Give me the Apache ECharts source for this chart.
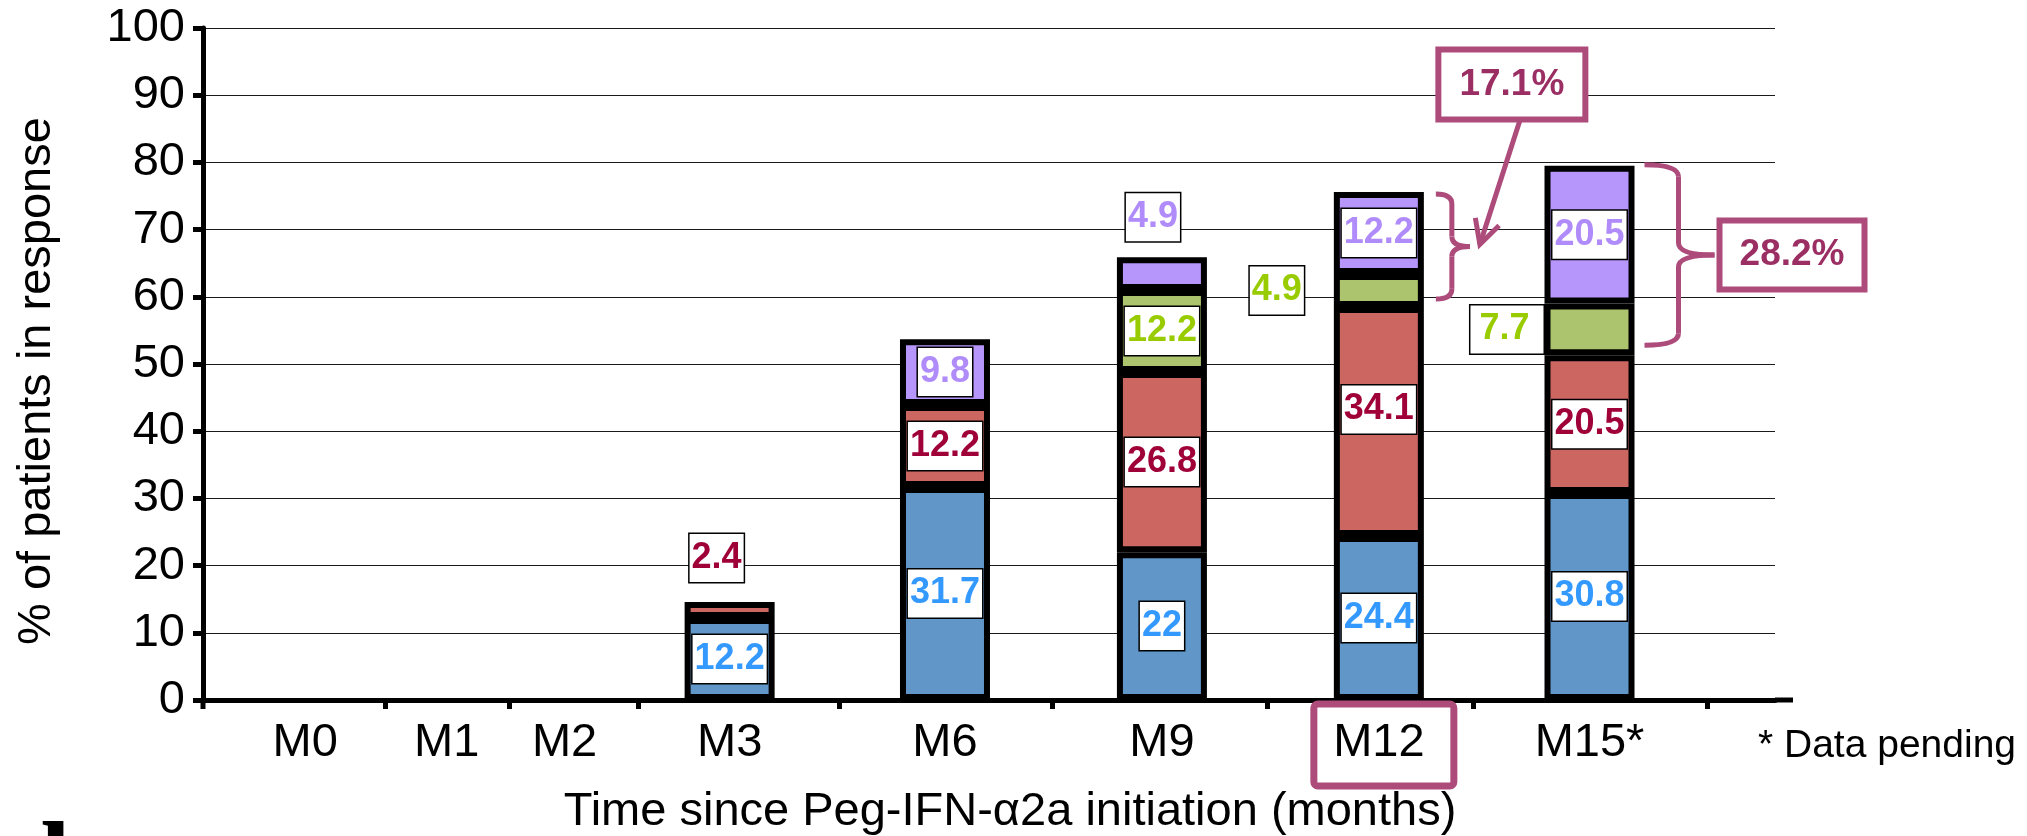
<!DOCTYPE html>
<html>
<head>
<meta charset="utf-8">
<script src="https://cdn.jsdelivr.net/npm/echarts@6/dist/echarts.min.js"></script>
<style>
  html, body { margin: 0; padding: 0; background: #fff; }
  #chart { width: 2027px; height: 836px; }
</style>
</head>
<body>
<div id="chart"></div>
<script>
// Time points since Peg-IFN-α2a initiation
const categories = ['M0', 'M1', 'M2', 'M3', 'M6', 'M9', 'M12', 'M15*'];

// Stacked response percentages, bottom segment first
const blueSeg   = [null, null, null, 12.2, 31.7, 22,   24.4, 30.8];
const redSeg    = [null, null, null, 2.4,  12.2, 26.8, 34.1, 20.5];
const greenSeg  = [null, null, null, null, null, 12.2, 4.9,  7.7];
const purpleSeg = [null, null, null, null, 9.8,  4.9,  12.2, 20.5];

// Y axis tick values
const yTicks = [0, 10, 20, 30, 40, 50, 60, 70, 80, 90, 100];

// Where each time point sits along the 0–100 time track, and the separator ticks between them
const slotPos = [6.5, 15.5, 23, 33.5, 47.2, 61, 74.8, 88.2];
const tickPos = [11.6, 19.5, 27.7, 40.5, 54, 67.7, 80.8, 95.7];

const FONT = 'Liberation Sans, Arial, Helvetica, sans-serif';
const MAGENTA = '#AD4B7B';
const MAGENTA_TEXT = '#9B2F64';
const BAR_W = 90;      // outer width; ECharts keeps the border inside the bar
const BAR_BORDER = 6;

const segments = [
  { name: 'blue',   vals: blueSeg,   fill: '#6196C9', text: '#3399FF' },
  { name: 'red',    vals: redSeg,    fill: '#CC6660', text: '#A00038' },
  { name: 'green',  vals: greenSeg,  fill: '#ACC46D', text: '#99CC00' },
  { name: 'purple', vals: purpleSeg, fill: '#B696FB', text: '#B08CFA' }
];

// Value boxes that sit outside or off-centre of their segment
const labelTweaks = {
  red:    { 3: { position: 'top', distance: 20, offset: [-13, 0] }, 6: { offset: [0, -12] } },
  green:  { 6: { position: 'left', distance: 30 },
            7: { position: 'left', distance: 1, padding: [6, 14, 6, 9] } },
  purple: { 5: { position: 'top', distance: 16, offset: [-9, 0] } }
};

function makeSeries(seg) {
  const tweaks = labelTweaks[seg.name] || {};
  return {
    name: seg.name,
    type: 'bar',
    stack: 'response',
    barWidth: BAR_W,
    encode: { x: 1, y: 0 },
    itemStyle: { color: seg.fill, borderColor: '#000', borderWidth: BAR_BORDER },
    label: {
      show: true,
      position: 'inside',
      formatter: p => String(seg.vals[p.dataIndex]),
      color: seg.text,
      fontFamily: FONT,
      fontWeight: 'bold',
      fontSize: 36,
      lineHeight: 36,
      backgroundColor: '#fff',
      borderColor: '#000',
      borderWidth: 1.5,
      padding: [6, 2]
    },
    emphasis: { disabled: true },
    data: seg.vals.map((v, i) => {
      const item = { value: [v == null ? '-' : v, slotPos[i]] };
      if (tweaks[i]) item.label = tweaks[i];
      return item;
    })
  };
}

const chart = echarts.init(document.getElementById('chart'));

chart.setOption({
  animation: false,
  backgroundColor: '#fff',
  textStyle: { fontFamily: FONT },
  grid: { left: 203, right: 252, top: 28, bottom: 136, containLabel: false },
  xAxis: {
    type: 'value',
    min: 0,
    max: 100,
    axisLine: { show: true, onZero: false, lineStyle: { color: '#000', width: 5 } },
    axisTick: { show: true, customValues: tickPos, length: 9, lineStyle: { color: '#000', width: 5 } },
    axisLabel: {
      customValues: slotPos,
      formatter: v => {
        const i = slotPos.findIndex(s => Math.abs(s - v) < 1e-6);
        return i >= 0 ? categories[i] : '';
      },
      fontSize: 47,
      color: '#000',
      margin: 20,
      fontFamily: FONT
    },
    splitLine: { show: false }
  },
  yAxis: {
    type: 'value',
    min: yTicks[0],
    max: yTicks[yTicks.length - 1],
    interval: yTicks[1] - yTicks[0],
    axisLine: { show: true, lineStyle: { color: '#000', width: 5 } },
    axisTick: { show: true, length: 10, lineStyle: { color: '#000', width: 5 } },
    axisLabel: { fontSize: 47, color: '#000', margin: 18, fontFamily: FONT },
    splitLine: { show: true, lineStyle: { color: '#1a1a1a', width: 1 } }
  },
  series: segments.map(makeSeries)
});

// ---- annotations placed from the chart's own scales ----
const px = (x, y) => chart.convertToPixel({ gridIndex: 0 }, [x, y]);
const stackTop = i => segments.reduce((s, seg) => s + (seg.vals[i] || 0), 0);
const baseOf = (i, k) => segments.slice(0, k).reduce((s, seg) => s + (seg.vals[i] || 0), 0);
const halfOuter = BAR_W / 2;

const lineStyle = { stroke: MAGENTA, lineWidth: 5, fill: 'none' };

function brace(x0, xs, xt, yTop, yBot, r) {
  const ym = (yTop + yBot) / 2;
  const parts = [
    { type: 'bezierCurve', shape: { x1: x0, y1: yTop, cpx1: xs, cpy1: yTop, x2: xs, y2: yTop + r } },
    { type: 'line', shape: { x1: xs, y1: yTop + r, x2: xs, y2: ym - r } },
    { type: 'bezierCurve', shape: { x1: xs, y1: ym - r, cpx1: xs, cpy1: ym, x2: xt, y2: ym } },
    { type: 'bezierCurve', shape: { x1: xt, y1: ym, cpx1: xs, cpy1: ym, x2: xs, y2: ym + r } },
    { type: 'line', shape: { x1: xs, y1: ym + r, x2: xs, y2: yBot - r } },
    { type: 'bezierCurve', shape: { x1: xs, y1: yBot - r, cpx1: xs, cpy1: yBot, x2: x0, y2: yBot } }
  ];
  parts.forEach(p => { p.style = lineStyle; p.z = 100; });
  return { parts, tip: [xt, ym] };
}

function callout(cx, cy, w, h, text) {
  return [
    { type: 'rect', z: 100, shape: { x: cx - w / 2, y: cy - h / 2, width: w, height: h },
      style: { fill: '#fff', stroke: MAGENTA, lineWidth: 6 } },
    { type: 'text', z: 101, x: cx, y: cy,
      style: { text, fill: MAGENTA_TEXT, fontFamily: FONT, fontWeight: 'bold', fontSize: 37,
               align: 'center', verticalAlign: 'middle', textAlign: 'center', textVerticalAlign: 'middle' } }
  ];
}

const g = [];

// M12: brace over the green + purple share, arrow from the total box
const i12 = categories.indexOf('M12');
const x12 = px(slotPos[i12], 0)[0];
const r12 = x12 + halfOuter;
const b12 = brace(r12 + 12, r12 + 28, r12 + 46,
                  px(0, stackTop(i12))[1] + 2, px(0, baseOf(i12, 2))[1] - 8, 10);
g.push(...b12.parts);
const share12 = (greenSeg[i12] + purpleSeg[i12]).toFixed(1) + '%';
const box12 = { cx: b12.tip[0] + 42, cy: b12.tip[1] - 162, w: 147, h: 70 };
g.push(...callout(box12.cx, box12.cy, box12.w, box12.h, share12));
const tail = [box12.cx + 8, box12.cy + box12.h / 2 + 1];
const tip = [b12.tip[0] + 10, b12.tip[1] - 2];
const ang = Math.atan2(tip[1] - tail[1], tip[0] - tail[0]);
const L = 27, spread = 0.48;
g.push({ type: 'line', z: 100, shape: { x1: tail[0], y1: tail[1], x2: tip[0], y2: tip[1] }, style: lineStyle });
g.push({ type: 'polyline', z: 100, shape: { points: [
  [tip[0] - L * Math.cos(ang - spread), tip[1] - L * Math.sin(ang - spread)],
  tip,
  [tip[0] - L * Math.cos(ang + spread), tip[1] - L * Math.sin(ang + spread)]
] }, style: lineStyle });

// M15: brace over the green + purple share with its total box
const i15 = categories.indexOf('M15*');
const x15 = px(slotPos[i15], 0)[0];
const r15 = x15 + halfOuter;
const b15 = brace(r15 + 10, r15 + 44, r15 + 80,
                  px(0, stackTop(i15))[1] - 1, px(0, baseOf(i15, 2))[1] - 10, 12);
g.push(...b15.parts);
const share15 = (greenSeg[i15] + purpleSeg[i15]).toFixed(1) + '%';
g.push(...callout(b15.tip[0] + 5 + 72.5, b15.tip[1], 145, 69, share15));

// Highlight frame around the M12 tick label
g.push({ type: 'rect', z: 100, shape: { x: x12 + 5 - 70, y: 704, width: 140, height: 82, r: 4 },
         style: { fill: 'none', stroke: MAGENTA, lineWidth: 7 } });

// Axis line stubs past the plot corner
const x0px = px(0, 0), xEnd = px(100, 0);
g.push({ type: 'line', z: 50, shape: { x1: xEnd[0], y1: xEnd[1], x2: xEnd[0] + 18, y2: xEnd[1] },
         style: { stroke: '#000', lineWidth: 5 } });
g.push({ type: 'line', z: 50, shape: { x1: x0px[0], y1: x0px[1], x2: x0px[0], y2: x0px[1] + 9 },
         style: { stroke: '#000', lineWidth: 5 } });

// Axis titles and footnote
g.push({ type: 'text', z: 100, x: 1010, y: 812,
         style: { text: 'Time since Peg-IFN-α2a initiation (months)', fill: '#000', fontFamily: FONT, fontSize: 47,
                  align: 'center', verticalAlign: 'middle', textAlign: 'center', textVerticalAlign: 'middle' } });
g.push({ type: 'text', z: 100, x: 37, y: 381, rotation: Math.PI / 2,
         style: { text: '% of patients in response', fill: '#000', fontFamily: FONT, fontSize: 47,
                  align: 'center', verticalAlign: 'middle', textAlign: 'center', textVerticalAlign: 'middle' } });
g.push({ type: 'text', z: 100, x: 1758, y: 746,
         style: { text: '* Data pending', fill: '#000', fontFamily: FONT, fontSize: 39,
                  align: 'left', verticalAlign: 'middle', textAlign: 'left', textVerticalAlign: 'middle' } });
// Panel letter, cut off by the bottom edge
g.push({ type: 'text', z: 100, x: 9, y: 815,
         style: { text: 'd', fill: '#000', fontFamily: 'Liberation Serif, serif', fontWeight: 'bold', fontSize: 110,
                  align: 'left', verticalAlign: 'top', textAlign: 'left', textVerticalAlign: 'top' } });

chart.setOption({ graphic: g });
</script>
</body>
</html>
